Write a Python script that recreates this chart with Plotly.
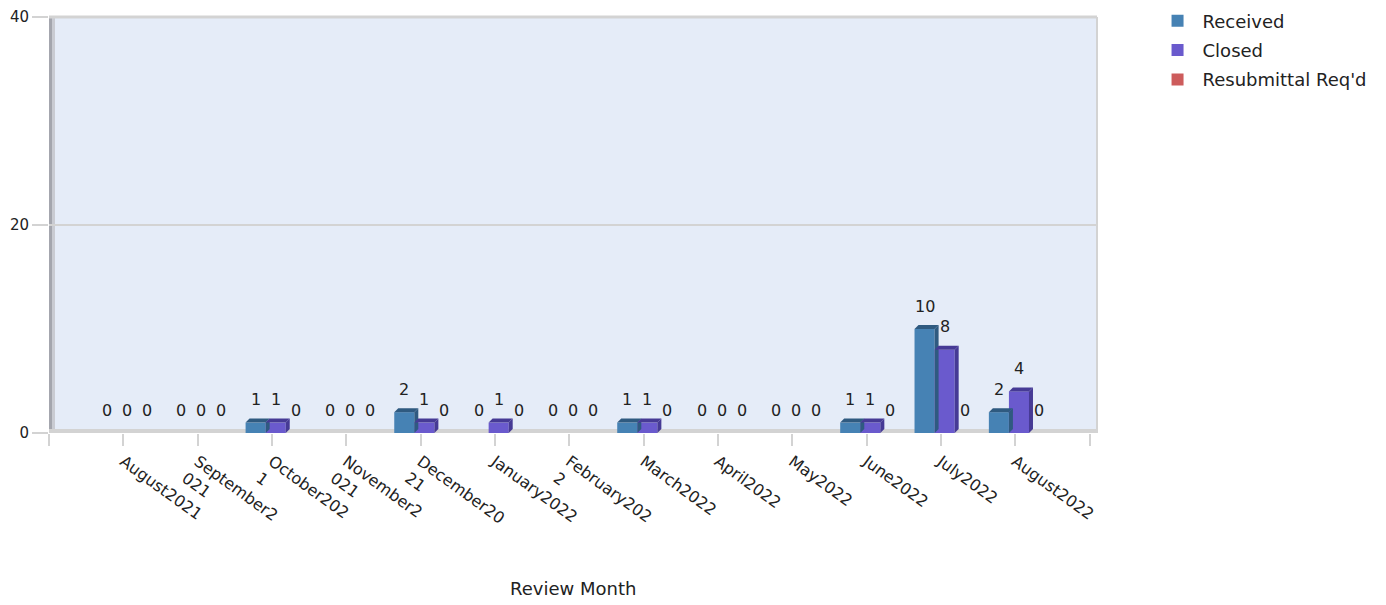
import plotly.graph_objects as go

months = ["August2021", "September2<br>021", "October202<br>1", "November2<br>021",
          "December20<br>21", "January2022", "February202<br>2", "March2022",
          "April2022", "May2022", "June2022", "July2022", "August2022"]
received = [0, 0, 1, 0, 2, 0, 0, 1, 0, 0, 1, 10, 2]
closed = [0, 0, 1, 0, 1, 1, 0, 1, 0, 0, 1, 8, 4]
resub = [0, 0, 0, 0, 0, 0, 0, 0, 0, 0, 0, 0, 0]

series = [("Received", received, "#4682B4", "#2F5A80"),
          ("Closed", closed, "#6A5ACD", "#463A95"),
          ("Resubmittal Req'd", resub, "#CD5C5C", "#8E3A3A")]

BW = 0.27
SHIFT = 0.05
offsets = [-1.5 * BW + SHIFT, -0.5 * BW + SHIFT, 0.5 * BW + SHIFT]
xs = list(range(len(months)))
# depth offset (data units) for the pseudo-3D faces
DX = 4 / 74.3
DY = 4 / 10.4

fig = go.Figure()
shapes = []
annotations = []
for (name, vals, col, dark), off in zip(series, offsets):
    fig.add_trace(go.Bar(
        x=xs, y=vals, name=name, width=BW, offset=off, legendgroup=name,
        marker=dict(color=col, line=dict(width=0)),
    ))
    for i, v in enumerate(vals):
        xl = i + off
        xr = xl + BW
        if v > 0:
            shapes.append(dict(type="path", xref="x", yref="y", layer="above",
                               path=f"M{xr},0 L{xr+DX},{DY} L{xr+DX},{v+DY} L{xr},{v} Z",
                               fillcolor=dark, line=dict(width=0)))
            shapes.append(dict(type="path", xref="x", yref="y", layer="above",
                               path=f"M{xl},{v} L{xl+DX},{v+DY} L{xr+DX},{v+DY} L{xr},{v} Z",
                               fillcolor=dark, line=dict(width=0)))
        annotations.append(dict(x=xl + BW / 2, y=v, xref="x", yref="y", text=str(v),
                                showarrow=False, yshift=23,
                                font=dict(size=16, color="#222222")))

# left wall
shapes.append(dict(type="rect", xref="x", yref="paper", xsizemode="pixel", xanchor=-1,
                   x0=-1, x1=3, y0=0, y1=1, fillcolor="#A4A6AE", line=dict(width=0),
                   layer="below"))
shapes.append(dict(type="rect", xref="x", yref="paper", xsizemode="pixel", xanchor=-1,
                   x0=3, x1=6, y0=0, y1=1, fillcolor="#C9CBD2", line=dict(width=0),
                   layer="below"))
# floor
shapes.append(dict(type="rect", xref="paper", yref="y", ysizemode="pixel", yanchor=0,
                   x0=0, x1=1, y0=-1, y1=4, fillcolor="#D3D3D3", line=dict(width=0),
                   layer="below"))
# right wall edge
shapes.append(dict(type="line", xref="paper", yref="paper", x0=1, x1=1, y0=0, y1=1,
                   line=dict(color="#D3D3D3", width=2)))
# top edge
shapes.append(dict(type="line", xref="paper", yref="paper", x0=0, x1=1, y0=1, y1=1,
                   line=dict(color="#D3D3D3", width=3)))

annotations.append(dict(text="Review Month", xref="paper", yref="paper", x=0.5, y=0,
                        yshift=-155, showarrow=False, yanchor="middle",
                        font=dict(size=18, color="#222222")))

fig.update_layout(
    width=1378, height=597,
    margin=dict(l=41, r=289, t=9, b=172, autoexpand=False),
    paper_bgcolor="white", plot_bgcolor="#E5ECF8",
    font=dict(family="DejaVu Sans", size=16, color="#222222"),
    barmode="overlay",
    shapes=shapes, annotations=annotations,
    legend=dict(x=1.053, y=1.035, xanchor="left", yanchor="top",
                font=dict(size=18), itemwidth=40, tracegroupgap=3,
                bgcolor="rgba(0,0,0,0)"),
    xaxis=dict(range=[-1, 13.1], tickmode="array",
               tickvals=list(range(-1, 14)),
               ticktext=[""] + months + [""],
               tickangle=36, ticks="outside", ticklen=12, tickwidth=2,
               tickcolor="#D3D3D3", showgrid=False, zeroline=False,
               showline=False, tickfont=dict(size=16), automargin=False),
    yaxis=dict(range=[0, 40], tickvals=[0, 20, 40], ticks="outside", ticklen=16,
               tickwidth=2, tickcolor="#D3D3D3", showgrid=True, gridcolor="#D3D3D3",
               gridwidth=2, zeroline=False, showline=False, tickfont=dict(size=15),
               automargin=False),
)

fig.write_html("out.html")
